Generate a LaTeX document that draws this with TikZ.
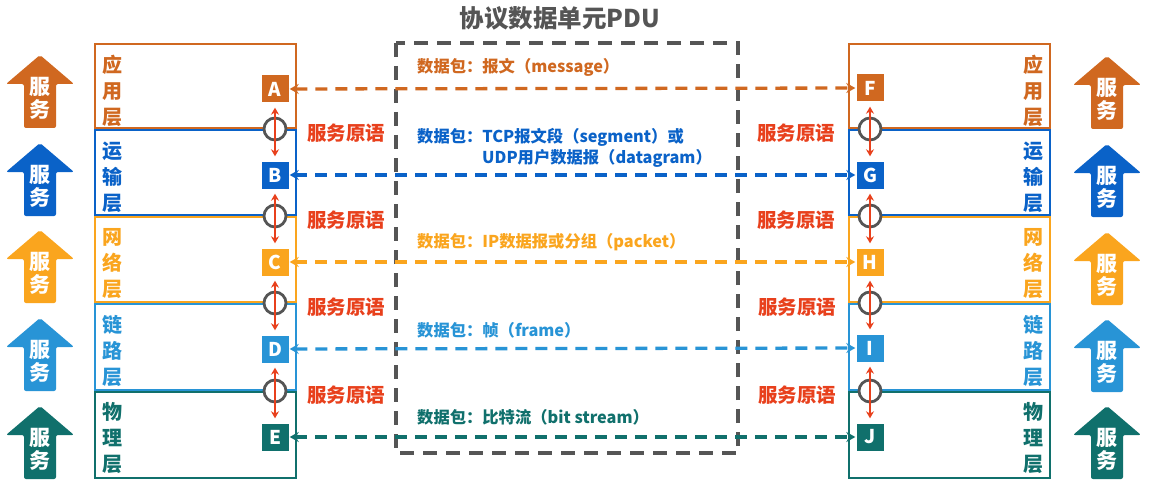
\documentclass[tikz,border=0pt]{standalone}
\usepackage{fontspec}
\setmainfont{Noto Sans CJK SC}
\usetikzlibrary{arrows.meta}
\definecolor{capp}{RGB}{208,104,32}
\definecolor{ctra}{RGB}{10,98,200}
\definecolor{cnet}{RGB}{250,165,30}
\definecolor{clink}{RGB}{40,148,214}
\definecolor{cphy}{RGB}{16,112,108}
\definecolor{cred}{RGB}{232,64,28}
\definecolor{cgray}{RGB}{85,85,85}
\newcommand\svcarrow[4]{%
  \fill[#4, rounded corners=2pt] (#2,#3) -- ({#2+34},{#3+29}) -- ({#2+16},{#3+29}) -- ({#2+16},{#3+73}) -- ({#2-16},{#3+73}) -- ({#2-16},{#3+29}) -- ({#2-34},{#3+29}) -- cycle;
  \node[svctext] (#1) at (#2,{#3+43}) {服\\务};
}
\begin{document}
\begin{tikzpicture}[x=1pt,y=-1pt,
  layerbox/.style={draw=#1, line width=2.2pt},
  layertext/.style={text=#1, align=center, font=\bfseries\fontsize{20}{26}\selectfont, inner sep=0pt},
  sq/.style={fill=#1, text=white, minimum size=27pt, inner sep=0pt, font=\bfseries\fontsize{19}{19}\selectfont},
  circ/.style={circle, draw=cgray, fill=white, line width=2.8pt, minimum size=22pt, inner sep=0pt},
  redarr/.style={draw=cred, line width=1.8pt, {Stealth[length=7pt,width=8pt]}-{Stealth[length=7pt,width=8pt]}, shorten <=5pt, shorten >=5pt},
  pdu/.style={draw=#1, line width=3.3pt, dash pattern=on 12pt off 8pt, {Stealth[length=9pt,width=10pt]}-{Stealth[length=9pt,width=10pt]}, shorten <=1pt, shorten >=1pt},
  plabel/.style={text=#1, anchor=west, inner sep=0pt, font=\bfseries\fontsize{16.3}{16.3}\selectfont},
  prim/.style={text=cred, inner sep=0pt, font=\bfseries\fontsize{19.5}{19.5}\selectfont},
  svctext/.style={text=white, align=center, inner sep=0pt, font=\bfseries\fontsize{21}{23}\selectfont}
]
\useasboundingbox (0,0) rectangle (1151,484);
\fill[white] (0,0) rectangle (1151,484);

% title
\node[text=cgray, font=\bfseries\fontsize{24.5}{24.5}\selectfont] (title) at (560,18) {协议数据单元PDU};

% left stack
\draw[layerbox=capp] (95,44) rectangle (296,128);
\draw[layerbox=ctra] (95,130) rectangle (296,215);
\draw[layerbox=cnet] (95,217) rectangle (296,302);
\draw[layerbox=clink] (95,304) rectangle (296,390);
\draw[layerbox=cphy] (95,392) rectangle (296,478);
% right stack
\draw[layerbox=capp] (849,44) rectangle (1050,128);
\draw[layerbox=ctra] (849,130) rectangle (1050,215);
\draw[layerbox=cnet] (849,217) rectangle (1050,302);
\draw[layerbox=clink] (849,304) rectangle (1050,390);
\draw[layerbox=cphy] (849,392) rectangle (1050,478);

% layer names
\node[layertext=capp] (nA) at (112,91) {应\\用\\层};
\node[layertext=ctra] (nB) at (112,177) {运\\输\\层};
\node[layertext=cnet] (nC) at (112,264) {网\\络\\层};
\node[layertext=clink] (nD) at (112,351) {链\\路\\层};
\node[layertext=cphy] (nE) at (112,438) {物\\理\\层};
\node[layertext=capp] (nF) at (1033,91) {应\\用\\层};
\node[layertext=ctra] (nG) at (1033,177) {运\\输\\层};
\node[layertext=cnet] (nH) at (1033,264) {网\\络\\层};
\node[layertext=clink] (nI) at (1033,351) {链\\路\\层};
\node[layertext=cphy] (nJ) at (1033,438) {物\\理\\层};

% circles
\node[circ] (lc1) at (275,129) {};
\node[circ] (lc2) at (275,216) {};
\node[circ] (lc3) at (275,303) {};
\node[circ] (lc4) at (275,391) {};
\node[circ] (rc1) at (870,129) {};
\node[circ] (rc2) at (870,216) {};
\node[circ] (rc3) at (870,303) {};
\node[circ] (rc4) at (870,391) {};

% squares
\node[sq=capp] (A) at (275,89) {A};
\node[sq=ctra] (B) at (275,175) {B};
\node[sq=cnet] (C) at (275,262) {C};
\node[sq=clink] (D) at (275,349) {D};
\node[sq=cphy] (E) at (275,437) {E};
\node[sq=capp] (F) at (870,88) {F};
\node[sq=ctra] (G) at (870,175) {G};
\node[sq=cnet] (H) at (870,262) {H};
\node[sq=clink] (I) at (870,348) {I};
\node[sq=cphy] (J) at (870,437) {J};

% red primitive arrows
\draw[redarr] (A) -- (B);
\draw[redarr] (B) -- (C);
\draw[redarr] (C) -- (D);
\draw[redarr] (D) -- (E);
\draw[redarr] (F) -- (G);
\draw[redarr] (G) -- (H);
\draw[redarr] (H) -- (I);
\draw[redarr] (I) -- (J);

% primitive labels
\node[prim] (p1) at (346,133) {服务原语};
\node[prim] (p2) at (346,220) {服务原语};
\node[prim] (p3) at (346,307) {服务原语};
\node[prim] (p4) at (346,395) {服务原语};
\node[prim] (p5) at (796,133) {服务原语};
\node[prim] (p6) at (796,220) {服务原语};
\node[prim] (p7) at (797,307) {服务原语};
\node[prim] (p8) at (797,395) {服务原语};

% PDU box
\draw[cgray, line width=3.8pt, dash pattern=on 14pt off 9pt] (396,43) rectangle (738,453);

% peer dashed arrows
\draw[pdu=capp] (A) -- (F);
\draw[pdu=ctra] (B) -- (G);
\draw[pdu=cnet] (C) -- (H);
\draw[pdu=clink] (D) -- (I);
\draw[pdu=cphy] (E) -- (J);

% PDU labels
\node[plabel=capp] (t1) at (417,67) {数据包：报文（message）};
\node[plabel=ctra] (t2) at (417,137) {数据包：TCP报文段（segment）或};
\node[plabel=ctra] (t2b) at (482,158) {UDP用户数据报（datagram）};
\node[plabel=cnet] (t3) at (417,242) {数据包：IP数据报或分组（packet）};
\node[plabel=clink] (t4) at (417,330) {数据包：帧（frame）};
\node[plabel=cphy] (t5) at (417,417) {数据包：比特流（bit stream）};

% service arrows
\svcarrow{sL1}{40}{55}{capp}
\svcarrow{sL2}{40}{143}{ctra}
\svcarrow{sL3}{40}{230}{cnet}
\svcarrow{sL4}{40}{318}{clink}
\svcarrow{sL5}{40}{406}{cphy}
\svcarrow{sR1}{1107}{56}{capp}
\svcarrow{sR2}{1107}{144}{ctra}
\svcarrow{sR3}{1107}{232}{cnet}
\svcarrow{sR4}{1107}{319}{clink}
\svcarrow{sR5}{1107}{406}{cphy}
\end{tikzpicture}
\end{document}
